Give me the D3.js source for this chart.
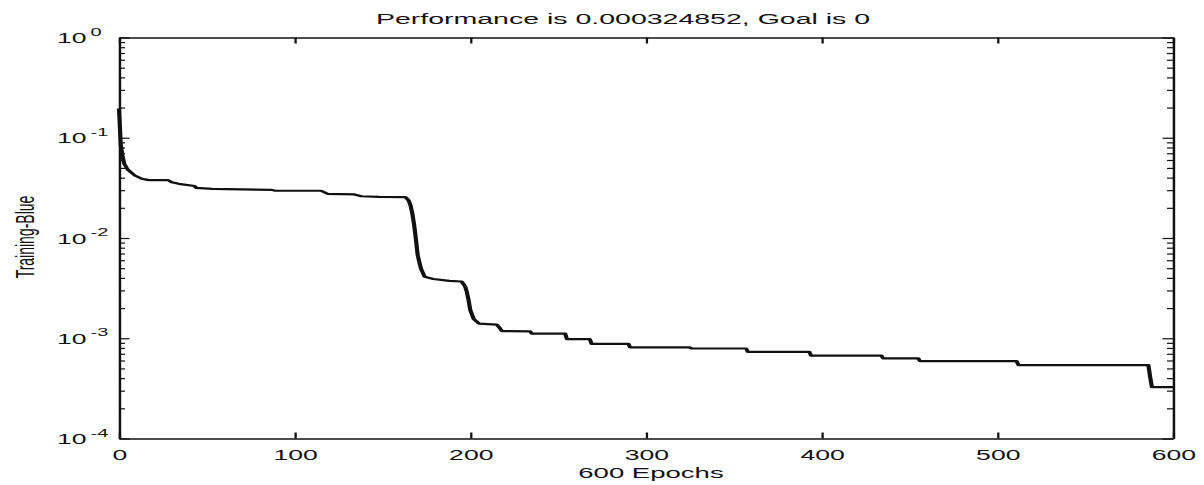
<!DOCTYPE html>
<html>
<head>
<meta charset="utf-8">
<script src="https://cdn.jsdelivr.net/npm/d3@7"></script>
<style>
  html, body { margin: 0; padding: 0; background: #fff; }
  svg { display: block; }
  text { font-family: "Liberation Sans", Arial, sans-serif; fill: #111; }
</style>
</head>
<body>
<svg id="chart"></svg>
<script>
// Training performance (MSE) per epoch, log scale
const epochs = [0, 1, 2, 3, 5, 9, 13, 17, 28, 30,
  34, 43, 44, 53, 87, 89, 115, 119, 134, 138,
  148, 163, 165, 166, 167, 168, 169, 170, 171, 172,
  174, 179, 188, 195, 197, 198, 199, 200, 202, 205,
  215, 217, 218, 234, 235, 254, 255, 268, 269, 290,
  291, 325, 326, 357, 358, 393, 394, 434, 435, 455,
  456, 511, 512, 586, 587, 588, 600];
const performance = [0.196, 0.085, 0.066, 0.055, 0.048, 0.042, 0.039, 0.0378, 0.0378, 0.036,
  0.0347, 0.033, 0.0316, 0.0309, 0.0302, 0.0296, 0.0296, 0.0275, 0.0272, 0.0261,
  0.0257, 0.0256, 0.0235, 0.021, 0.0175, 0.0135, 0.0098, 0.0068, 0.0057, 0.0049,
  0.0041, 0.0039, 0.00373, 0.00368, 0.0033, 0.0029, 0.0024, 0.0019, 0.00155, 0.0014,
  0.00137, 0.00125, 0.00118, 0.00117, 0.00111, 0.00111, 0.00098, 0.00098, 0.00088, 0.00088,
  0.00081, 0.00081, 0.00079, 0.00079, 0.00073, 0.00073, 0.00067, 0.00067, 0.00063, 0.00063,
  0.00059, 0.00059, 0.00054, 0.00054, 0.00041, 0.000324852, 0.000324852];

const xTicks = [0, 100, 200, 300, 400, 500, 600];
const yDecades = [1e-4, 1e-3, 1e-2, 1e-1, 1];
const yExponents = ["-4", "-3", "-2", "-1", "0"];
const titleText = "Performance is 0.000324852, Goal is 0";
const xLabelText = "600 Epochs";
const yLabelText = "Training-Blue";

// Figure is drawn in a horizontally stretched coordinate space
const W = 1204, H = 485, stretch = 1.9;
const u = px => px / stretch;          // horizontal pixel -> user unit
const plot = { left: u(119), right: u(1173), top: 37.5, bottom: 438.5 };

const svg = d3.select("#chart")
  .attr("width", W).attr("height", H)
  .attr("viewBox", `0 0 ${W / stretch} ${H}`)
  .attr("preserveAspectRatio", "none");

svg.append("rect").attr("width", W / stretch).attr("height", H).attr("fill", "#fff");

const x = d3.scaleLinear().domain([0, 600]).range([plot.left, plot.right]);
const y = d3.scaleLog().domain([1e-4, 1]).range([plot.bottom, plot.top]);

const minorTicks = [];
yDecades.slice(0, -1).forEach(d => { for (let k = 2; k <= 9; k++) minorTicks.push(k * d); });

const ink = "#111";
function styleAxis(g) {
  g.selectAll("path.domain").attr("stroke", ink).attr("stroke-width", 1.3);
  g.selectAll(".tick line").attr("stroke", ink).attr("stroke-width", 1.2);
}

// bottom axis with labels
const gx = svg.append("g").attr("transform", `translate(0,${plot.bottom})`)
  .call(d3.axisBottom(x).tickValues(xTicks).tickSize(-6).tickSizeOuter(0))
  .call(styleAxis);
gx.selectAll(".tick text")
  .attr("y", 22).attr("dy", null)
  .attr("font-size", 14).attr("fill", ink)
  .style("font-family", '"Liberation Sans", Arial, sans-serif');

// top axis, ticks only
svg.append("g").attr("transform", `translate(0,${plot.top})`)
  .call(d3.axisTop(x).tickValues(xTicks).tickSize(-6).tickSizeOuter(0).tickFormat(() => ""))
  .call(styleAxis);

// left axis: decades with labels, plus minor ticks
const gy = svg.append("g").attr("transform", `translate(${plot.left},0)`)
  .call(d3.axisLeft(y).tickValues(yDecades).tickSize(-u(10.5)).tickSizeOuter(0))
  .call(styleAxis);
svg.append("g").attr("transform", `translate(${plot.left},0)`)
  .call(d3.axisLeft(y).tickValues(minorTicks).tickSize(-u(6)).tickSizeOuter(0).tickFormat(() => ""))
  .call(styleAxis)
  .call(g => g.select(".domain").remove());

gy.selectAll(".tick text").each(function (d, i) {
  const t = d3.select(this)
    .text(null)
    .attr("x", u(57) - plot.left).attr("dy", null).attr("y", 5)
    .attr("text-anchor", "start")
    .attr("font-size", 14).attr("fill", ink)
    .style("font-family", '"Liberation Sans", Arial, sans-serif');
  t.append("tspan").text("10");
  t.append("tspan").attr("dx", u(4)).attr("dy", -7.5).attr("font-size", 10.5).text(yExponents[i]);
});

// right axis, ticks only
svg.append("g").attr("transform", `translate(${plot.right},0)`)
  .call(d3.axisRight(y).tickValues(yDecades).tickSize(-u(10.5)).tickSizeOuter(0).tickFormat(() => ""))
  .call(styleAxis);
svg.append("g").attr("transform", `translate(${plot.right},0)`)
  .call(d3.axisRight(y).tickValues(minorTicks).tickSize(-u(6)).tickSizeOuter(0).tickFormat(() => ""))
  .call(styleAxis)
  .call(g => g.select(".domain").remove());

// performance curve
const line = d3.line()
  .x((d, i) => x(epochs[i]))
  .y(d => y(d));
svg.append("path")
  .datum(performance)
  .attr("fill", "none")
  .attr("stroke", "#111")
  .attr("stroke-width", 2.2)
  .attr("stroke-linejoin", "round")
  .attr("d", line);

// title and axis labels
svg.append("text")
  .attr("x", u(623)).attr("y", 24)
  .attr("text-anchor", "middle")
  .attr("font-size", 15)
  .text(titleText);

svg.append("text")
  .attr("x", u(651)).attr("y", 478)
  .attr("text-anchor", "middle")
  .attr("font-size", 14.5)
  .text(xLabelText);

svg.append("text")
  .attr("transform", `translate(${u(24)},237) rotate(-90)`)
  .attr("text-anchor", "middle")
  .attr("dy", "0.36em")
  .attr("font-size", 14)
  .text(yLabelText);
</script>
</body>
</html>
